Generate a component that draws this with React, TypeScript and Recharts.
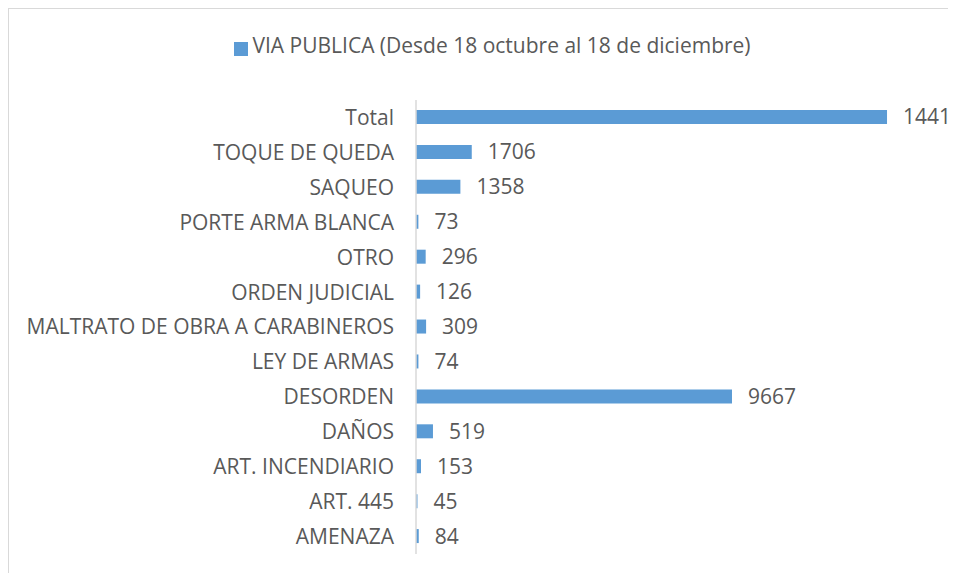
import React from "react";
import { BarChart, Bar, XAxis, YAxis, Legend, LabelList } from "recharts";

const categories = [
  "Total",
  "TOQUE DE QUEDA",
  "SAQUEO",
  "PORTE ARMA BLANCA",
  "OTRO",
  "ORDEN JUDICIAL",
  "MALTRATO DE OBRA A CARABINEROS",
  "LEY DE ARMAS",
  "DESORDEN",
  "DAÑOS",
  "ART. INCENDIARIO",
  "ART. 445",
  "AMENAZA",
];

const viaPublica = [14410, 1706, 1358, 73, 296, 126, 309, 74, 9667, 519, 153, 45, 84];

const seriesName = "VIA PUBLICA (Desde 18 octubre al 18 de diciembre)";

const data = categories.map((name, i) => ({ name, value: viaPublica[i] }));

const FONT = "'Open Sans', sans-serif";
const TEXT = "#595959";

export default function App() {
  return (
    <div
      style={{
        width: 947,
        height: 564,
        borderTop: "1px solid #d9d9d9",
        borderLeft: "1px solid #d9d9d9",
        fontFamily: FONT,
      }}
    >
      <BarChart
        width={947}
        height={564}
        data={data}
        layout="vertical"
        barSize={14}
        margin={{ top: 60, right: 17, bottom: 19, left: 0 }}
      >
        <XAxis type="number" hide domain={[0, 16000]} />
        <YAxis
          type="category"
          dataKey="name"
          width={407}
          interval={0}
          tickLine={false}
          tickSize={0}
          tickMargin={22}
          axisLine={{ stroke: "#d9d9d9", strokeWidth: 1.5 }}
          tick={{ fill: TEXT, fontSize: 21, fontFamily: FONT }}
        />
        <Legend
          verticalAlign="top"
          align="center"
          iconType="square"
          iconSize={14}
          wrapperStyle={{ top: 22, left: 15, width: 947, lineHeight: "29px" }}
          formatter={(v: string) => (
            <span style={{ color: TEXT, fontSize: 21, fontFamily: FONT }}>{v}</span>
          )}
        />
        <Bar dataKey="value" name={seriesName} fill="#5b9bd5" isAnimationActive={false}>
          <LabelList
            dataKey="value"
            position="right"
            offset={16}
            fill={TEXT}
            style={{ fontSize: 21, fontFamily: FONT }}
          />
        </Bar>
      </BarChart>
    </div>
  );
}
